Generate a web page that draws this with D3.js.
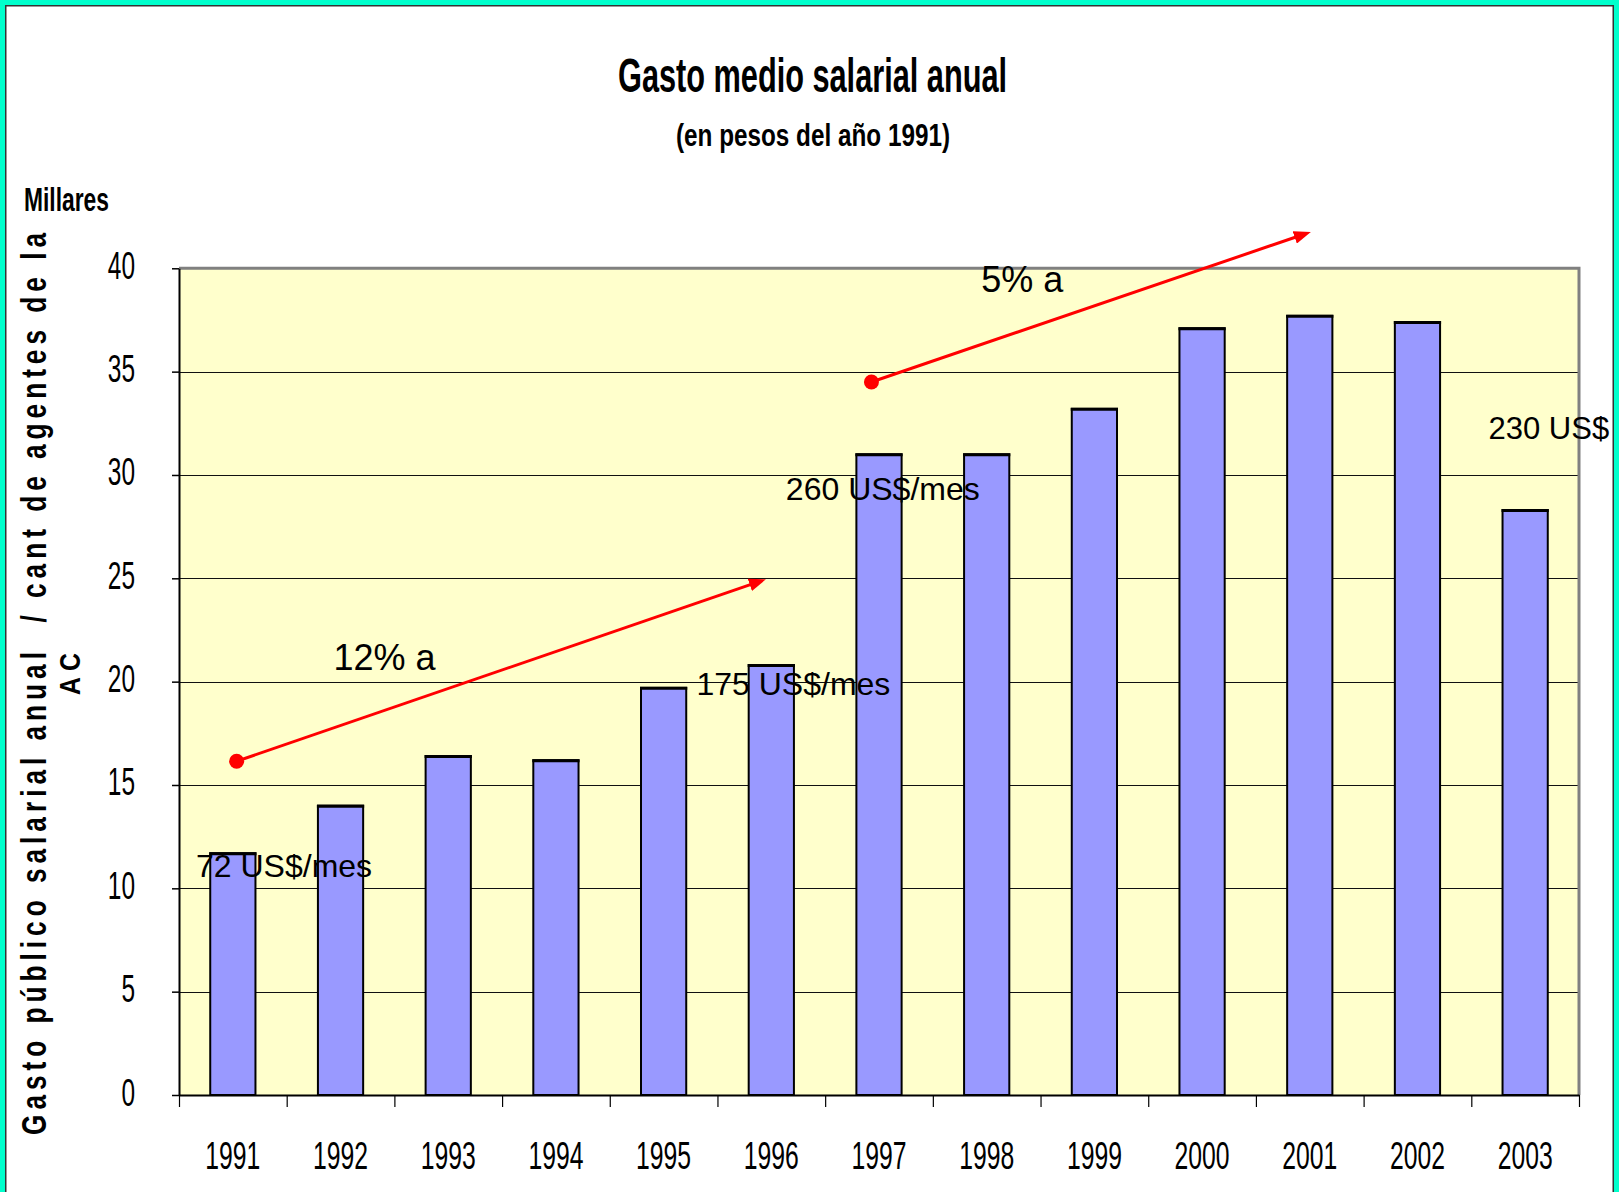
<!DOCTYPE html>
<html><head><meta charset="utf-8">
<script src="https://cdn.jsdelivr.net/npm/d3@7"></script>
<style>html,body{margin:0;padding:0;background:#fff;} svg{display:block;}</style>
</head><body>
<svg id="chart" width="1619" height="1192"></svg>
<script>
// ---- data ----
const categories = ["1991","1992","1993","1994","1995","1996","1997","1998","1999","2000","2001","2002","2003"];
const values = [11.7, 14.0, 16.4, 16.2, 19.7, 20.8, 31.0, 31.0, 33.2, 37.1, 37.7, 37.4, 28.3];
const yTickValues = [0, 5, 10, 15, 20, 25, 30, 35, 40];
const titleText = "Gasto medio salarial anual";
const subtitleText = "(en pesos del año 1991)";
const unitText = "Millares";
const yTitleLines = ["Gasto público salarial anual  / cant de agentes de la", "A C"];
// annotations, in data space (pos = category index units from the left edge, value = y units)
const usdLabels = [
  {text: "72 US$/mes",  pos: 0.158, value: 10.54},
  {text: "175 US$/mes", pos: 4.805, value: 19.34},
  {text: "260 US$/mes", pos: 5.635, value: 28.81},
  {text: "230 US$",     pos: 12.16, value: 31.76}
];
const rateLabels = [
  {text: "12% a", pos: 1.434, value: 20.55},
  {text: "5% a",  pos: 7.45,  value: 38.86}
];
const trendArrows = [
  {pos0: 0.535, v0: 16.15, pos1: 5.45,  v1: 24.95},
  {pos0: 6.43,  v0: 34.5,  pos1: 10.51, v1: 41.76}
];

// ---- layout ----
const W = 1619, H = 1192;
const plot = {left: 179, right: 1579, top: 268.3, bottom: 1095};
const FONT = "'Liberation Sans', Arial, sans-serif";
const svg = d3.select("#chart");

const x = d3.scaleBand().domain(categories).range([plot.left, plot.right]).paddingInner(0.58).paddingOuter(0.29);
const xPos = d3.scaleLinear().domain([0, categories.length]).range([plot.left, plot.right]);
const y = d3.scaleLinear().domain([0, 40]).range([plot.bottom, plot.top]);

svg.append("rect").attr("width", W).attr("height", H).attr("fill", "#fff");

// plot background
svg.append("rect")
  .attr("x", plot.left).attr("y", plot.top)
  .attr("width", plot.right - plot.left).attr("height", plot.bottom - plot.top)
  .attr("fill", "#FFFFCC");

// gridlines
svg.append("g").selectAll("line")
  .data(yTickValues.filter(v => v > 0 && v < 40)).join("line")
  .attr("x1", plot.left).attr("x2", plot.right)
  .attr("y1", d => Math.round(y(d)) + 0.5).attr("y2", d => Math.round(y(d)) + 0.5)
  .attr("stroke", "#111").attr("stroke-width", 1);

// bars
const gBars = svg.append("g");
gBars.selectAll("rect").data(values).join("rect")
  .attr("x", (d, i) => x(categories[i]))
  .attr("y", d => y(d))
  .attr("width", x.bandwidth())
  .attr("height", d => y(0) - y(d))
  .attr("fill", "#9999FF").attr("stroke", "#000").attr("stroke-width", 2);
gBars.selectAll("line").data(values).join("line")
  .attr("x1", (d, i) => x(categories[i]) - 1)
  .attr("x2", (d, i) => x(categories[i]) + x.bandwidth() + 1)
  .attr("y1", d => y(d) + 0.5).attr("y2", d => y(d) + 0.5)
  .attr("stroke", "#000").attr("stroke-width", 3);

// plot border (top/right)
svg.append("path")
  .attr("d", `M${plot.left},${plot.top}H${plot.right}V${plot.bottom}`)
  .attr("fill", "none").attr("stroke", "#808080").attr("stroke-width", 3);

// y axis
const gy = svg.append("g").attr("transform", `translate(${plot.left},0)`)
  .call(d3.axisLeft(y).tickValues(yTickValues).tickSize(7).tickSizeOuter(0).tickPadding(37));
gy.select(".domain").attr("stroke", "#000").attr("stroke-width", 2);
gy.selectAll(".tick line").attr("stroke", "#000").attr("stroke-width", 1.5);
gy.selectAll(".tick text")
  .attr("font-family", FONT).attr("font-size", 39).attr("fill", "#000")
  .attr("dy", "10px")
  .attr("textLength", d => String(d).length * 13.6)
  .attr("lengthAdjust", "spacingAndGlyphs");

// x axis tick marks at category boundaries
const gxt = svg.append("g").attr("transform", `translate(0,${plot.bottom})`)
  .call(d3.axisBottom(xPos).tickValues(d3.range(categories.length + 1)).tickSize(12).tickSizeOuter(0).tickFormat(""));
gxt.select(".domain").attr("stroke", "#000").attr("stroke-width", 2);
gxt.selectAll(".tick line").attr("stroke", "#000").attr("stroke-width", 1.2);

// x axis labels
const gxl = svg.append("g").attr("transform", `translate(0,${plot.bottom})`)
  .call(d3.axisBottom(x).tickSize(0).tickPadding(47));
gxl.select(".domain").remove();
gxl.selectAll(".tick text")
  .attr("font-family", FONT).attr("font-size", 38.5).attr("fill", "#000")
  .attr("textLength", 55).attr("lengthAdjust", "spacingAndGlyphs");

// titles
svg.append("text").text(titleText)
  .attr("x", 812.5).attr("y", 91.7).attr("text-anchor", "middle")
  .attr("font-family", FONT).attr("font-weight", "bold").attr("font-size", 49)
  .attr("textLength", 389).attr("lengthAdjust", "spacingAndGlyphs");
svg.append("text").text(subtitleText)
  .attr("x", 813).attr("y", 146).attr("text-anchor", "middle")
  .attr("font-family", FONT).attr("font-weight", "bold").attr("font-size", 31)
  .attr("textLength", 274).attr("lengthAdjust", "spacingAndGlyphs");
svg.append("text").text(unitText)
  .attr("x", 24).attr("y", 211)
  .attr("font-family", FONT).attr("font-weight", "bold").attr("font-size", 33)
  .attr("textLength", 85).attr("lengthAdjust", "spacingAndGlyphs");

// y axis title (two rotated lines)
const sx = 0.75;
svg.append("text").text(yTitleLines[0])
  .attr("transform", `translate(46,684) rotate(-90) scale(${sx},1)`)
  .attr("text-anchor", "middle").style("white-space", "pre")
  .attr("font-family", FONT).attr("font-weight", "bold").attr("font-size", 35)
  .attr("textLength", 902 / sx).attr("lengthAdjust", "spacing");
svg.append("text").text(yTitleLines[1])
  .attr("transform", `translate(79.5,674) rotate(-90)`)
  .attr("text-anchor", "middle")
  .attr("font-family", FONT).attr("font-weight", "bold").attr("font-size", 30)
  .attr("textLength", 42).attr("lengthAdjust", "spacingAndGlyphs");

// arrows
const defs = svg.append("defs");
defs.append("marker").attr("id", "arrowhead")
  .attr("viewBox", "0 0 17 13").attr("refX", 9).attr("refY", 6.5)
  .attr("markerWidth", 17).attr("markerHeight", 13)
  .attr("markerUnits", "userSpaceOnUse").attr("orient", "auto")
  .append("path").attr("d", "M0,0L17,6.5L0,13Z").attr("fill", "#FF0000");

const gArr = svg.append("g");
trendArrows.forEach(a => {
  const x0 = xPos(a.pos0), y0 = y(a.v0), x1 = xPos(a.pos1), y1 = y(a.v1);
  const len = Math.hypot(x1 - x0, y1 - y0);
  const ex = x1 - (x1 - x0) / len * 8, ey = y1 - (y1 - y0) / len * 8;
  gArr.append("line").attr("x1", x0).attr("y1", y0).attr("x2", ex).attr("y2", ey)
    .attr("stroke", "#FF0000").attr("stroke-width", 3).attr("marker-end", "url(#arrowhead)");
  gArr.append("circle").attr("cx", x0).attr("cy", y0).attr("r", 7.5).attr("fill", "#FF0000");
});

// annotation labels
svg.append("g").selectAll("text").data(rateLabels).join("text")
  .text(d => d.text).attr("x", d => xPos(d.pos)).attr("y", d => y(d.value))
  .attr("font-family", FONT).attr("font-size", 36).attr("fill", "#000");
svg.append("g").selectAll("text").data(usdLabels).join("text")
  .text(d => d.text).attr("x", d => xPos(d.pos)).attr("y", d => y(d.value))
  .attr("font-family", FONT).attr("font-size", d => d.text.length < 8 ? 31 : 32).attr("fill", "#000");

// outer frame
const frame = svg.append("g");
frame.append("rect").attr("x", 0).attr("y", 0).attr("width", W).attr("height", 5).attr("fill", "#00FFCC");
frame.append("rect").attr("x", 0).attr("y", 0).attr("width", 5).attr("height", H).attr("fill", "#00FFCC");
frame.append("rect").attr("x", 1614).attr("y", 0).attr("width", 5).attr("height", H).attr("fill", "#00FFCC");
frame.append("path").attr("d", `M5.75,${H}V5.75H1613.25V${H}`)
  .attr("fill", "none").attr("stroke", "#333").attr("stroke-width", 1.5);
</script>
</body></html>
